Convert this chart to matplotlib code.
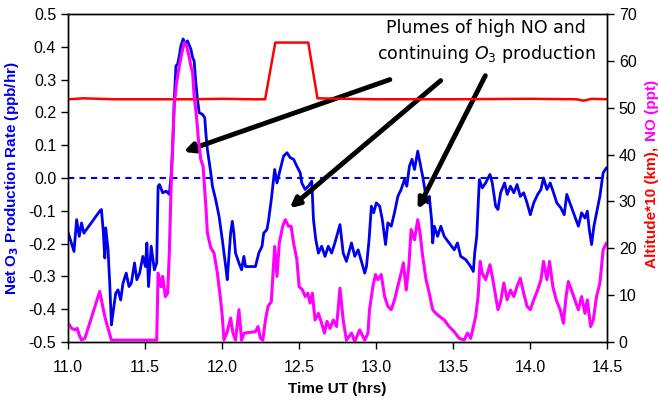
import matplotlib.pyplot as plt

# net O3 production rate (ppb/hr), left axis
blue_t = [11.002, 11.039, 11.056, 11.073, 11.088, 11.103, 11.120, 11.206, 11.217, 11.228,
          11.239, 11.245, 11.260, 11.271, 11.282, 11.292, 11.310, 11.325, 11.342, 11.357,
          11.378, 11.396, 11.411, 11.432, 11.447, 11.465, 11.486, 11.503, 11.512, 11.523,
          11.540, 11.561, 11.576, 11.585, 11.594, 11.615, 11.637, 11.658, 11.669, 11.680,
          11.690, 11.701, 11.712, 11.723, 11.733, 11.748, 11.761, 11.776, 11.798, 11.809,
          11.819, 11.830, 11.841, 11.852, 11.873, 11.888, 11.895, 11.905, 11.927, 11.938,
          11.959, 11.981, 12.002, 12.024, 12.034, 12.045, 12.056, 12.067, 12.077, 12.088,
          12.110, 12.127, 12.142, 12.153, 12.217, 12.239, 12.260, 12.271, 12.292, 12.303,
          12.320, 12.342, 12.357, 12.378, 12.400, 12.422, 12.443, 12.465, 12.486, 12.508,
          12.518, 12.540, 12.561, 12.583, 12.594, 12.609, 12.626, 12.647, 12.669, 12.690,
          12.712, 12.733, 12.766, 12.787, 12.808, 12.841, 12.862, 12.884, 12.905, 12.927,
          12.938, 12.955, 12.970, 12.985, 13.002, 13.024, 13.041, 13.062, 13.077, 13.099,
          13.120, 13.142, 13.163, 13.185, 13.200, 13.217, 13.234, 13.250, 13.271, 13.286,
          13.303, 13.321, 13.335, 13.346, 13.361, 13.368, 13.379, 13.400, 13.421, 13.443,
          13.475, 13.508, 13.529, 13.550, 13.583, 13.615, 13.632, 13.641, 13.654, 13.663,
          13.671, 13.690, 13.712, 13.740, 13.755, 13.777, 13.792, 13.809, 13.835, 13.852,
          13.873, 13.895, 13.916, 13.937, 13.959, 13.981, 14.002, 14.024, 14.050, 14.071,
          14.088, 14.110, 14.131, 14.153, 14.174, 14.200, 14.222, 14.239, 14.314, 14.335,
          14.357, 14.372, 14.385, 14.400, 14.415, 14.437, 14.454, 14.475, 14.495]
blue_v = [-0.168, -0.224, -0.127, -0.178, -0.137, -0.168, -0.157, -0.101, -0.096, -0.157,
          -0.244, -0.152, -0.219, -0.321, -0.448, -0.412, -0.351, -0.341, -0.372, -0.321,
          -0.290, -0.331, -0.321, -0.259, -0.310, -0.290, -0.239, -0.270, -0.198, -0.331,
          -0.208, -0.280, -0.259, -0.025, -0.020, -0.045, -0.040, -0.050, 0.006, 0.087,
          0.240, 0.342, 0.347, 0.373, 0.403, 0.424, 0.408, 0.418, 0.393, 0.367,
          0.357, 0.291, 0.240, 0.199, 0.194, 0.184, 0.138, 0.087, 0.016, -0.025,
          -0.066, -0.117, -0.188, -0.270, -0.310, -0.239, -0.168, -0.132, -0.168, -0.229,
          -0.259, -0.280, -0.239, -0.270, -0.270, -0.229, -0.208, -0.168, -0.157, -0.127,
          -0.066, 0.026, -0.015, 0.026, 0.067, 0.077, 0.062, 0.057, 0.036, 0.016,
          -0.015, -0.035, -0.025, -0.010, -0.127, -0.188, -0.229, -0.208, -0.239, -0.208,
          -0.229, -0.198, -0.142, -0.229, -0.254, -0.198, -0.239, -0.219, -0.254, -0.290,
          -0.270, -0.188, -0.086, -0.106, -0.076, -0.086, -0.127, -0.203, -0.137, -0.147,
          -0.106, -0.056, -0.035, -0.005, -0.025, 0.036, 0.057, 0.026, 0.082, 0.046,
          0.005, -0.045, -0.076, -0.056, -0.127, -0.198, -0.147, -0.178, -0.147, -0.178,
          -0.198, -0.219, -0.198, -0.239, -0.249, -0.270, -0.285, -0.229, -0.178, -0.086,
          -0.005, -0.030, -0.015, 0.011, -0.015, -0.086, -0.096, -0.045, -0.015, -0.050,
          -0.025, -0.045, -0.020, -0.056, -0.045, -0.076, -0.112, -0.076, -0.050, -0.035,
          0.000, -0.035, -0.015, -0.045, -0.076, -0.091, -0.112, -0.050, -0.147, -0.106,
          -0.122, -0.101, -0.157, -0.203, -0.147, -0.096, -0.055, 0.016, 0.030]

# NO (ppt), right axis
no_t = [11.002, 11.024, 11.045, 11.060, 11.073, 11.088, 11.110, 11.206, 11.224, 11.239,
        11.260, 11.282, 11.576, 11.585, 11.604, 11.615, 11.632, 11.647, 11.658, 11.669,
        11.680, 11.690, 11.705, 11.723, 11.740, 11.755, 11.770, 11.783, 11.798, 11.809,
        11.819, 11.834, 11.847, 11.862, 11.877, 11.895, 11.905, 11.927, 11.948, 11.970,
        11.991, 12.002, 12.013, 12.034, 12.056, 12.071, 12.088, 12.110, 12.127, 12.144,
        12.217, 12.234, 12.249, 12.265, 12.282, 12.299, 12.320, 12.342, 12.357, 12.372,
        12.394, 12.411, 12.432, 12.449, 12.465, 12.486, 12.501, 12.523, 12.540, 12.557,
        12.572, 12.587, 12.604, 12.626, 12.647, 12.665, 12.682, 12.701, 12.723, 12.744,
        12.766, 12.787, 12.808, 12.841, 12.862, 12.894, 12.927, 12.948, 12.958, 12.980,
        12.997, 13.012, 13.034, 13.056, 13.077, 13.099, 13.120, 13.142, 13.163, 13.178,
        13.196, 13.213, 13.228, 13.250, 13.271, 13.286, 13.303, 13.325, 13.346, 13.368,
        13.389, 13.415, 13.443, 13.475, 13.508, 13.540, 13.572, 13.594, 13.615, 13.632,
        13.647, 13.663, 13.676, 13.690, 13.712, 13.740, 13.755, 13.777, 13.792, 13.809,
        13.830, 13.852, 13.873, 13.895, 13.916, 13.937, 13.959, 13.981, 14.002, 14.024,
        14.050, 14.071, 14.088, 14.110, 14.127, 14.148, 14.170, 14.196, 14.217, 14.234,
        14.249, 14.314, 14.335, 14.357, 14.372, 14.394, 14.411, 14.432, 14.454, 14.475,
        14.495]
no_v = [4.0, 2.9, 2.6, 2.9, 1.5, 0.4, 0.8, 10.8, 7.9, 5.4,
        2.9, 0.4, 0.4, 14.7, 11.8, 14.0, 9.7, 10.4, 19.0, 32.5,
        43.2, 50.4, 55.4, 58.9, 61.8, 63.9, 63.2, 61.4, 58.9, 57.5,
        52.5, 48.2, 43.2, 39.0, 37.5, 29.0, 23.3, 20.1, 19.0, 14.7,
        9.0, 5.4, 0.4, 2.2, 5.1, 1.9, 0.4, 6.9, 0.4, 1.9,
        2.2, 3.3, 0.8, 0.4, 4.7, 7.6, 8.6, 20.4, 14.0, 21.1,
        24.7, 26.1, 24.7, 24.7, 21.1, 17.6, 11.8, 11.1, 9.7, 10.4,
        8.3, 10.4, 4.7, 6.1, 4.0, 1.9, 4.4, 2.9, 4.7, 3.3,
        11.5, 4.7, 0.4, 1.9, 0.1, 2.6, 0.4, 1.9, 6.9, 11.9,
        14.4, 13.3, 14.4, 9.7, 7.6, 6.9, 9.0, 11.9, 14.7, 16.9,
        11.1, 16.1, 24.0, 21.8, 26.1, 23.3, 18.3, 13.3, 10.4, 6.9,
        6.1, 5.4, 4.7, 3.3, 2.2, 0.8, 0.4, 1.9, 0.8, 3.3,
        5.4, 9.7, 17.2, 14.7, 13.3, 16.5, 14.0, 9.7, 6.9, 8.6,
        12.6, 9.0, 11.1, 9.7, 11.9, 13.6, 10.4, 7.6, 6.9, 9.0,
        11.1, 13.3, 17.2, 13.3, 17.2, 11.9, 9.0, 6.9, 4.0, 9.7,
        12.9, 6.9, 9.7, 6.1, 9.0, 3.3, 4.7, 9.7, 12.6, 19.7,
        21.0]

# altitude*10 (km), right axis
alt_t = [11.0, 11.1, 11.2, 11.3, 11.5, 11.8, 12.0, 12.2, 12.28, 12.346,
         12.56, 12.62, 13.0, 13.5, 14.0, 14.3, 14.35, 14.4, 14.5]
alt_v = [51.8, 52.0, 51.9, 51.8, 51.8, 51.8, 51.9, 51.8, 51.8, 63.9,
         63.9, 52.0, 51.8, 51.8, 51.9, 51.8, 51.5, 51.9, 51.8]

# arrows: (tail time, tail rate, head time, head rate)
arrows = [(13.09, 0.300, 11.75, 0.080),
          (13.42, 0.297, 12.44, -0.092),
          (13.71, 0.312, 13.27, -0.095)]

plt.rcParams['font.family'] = ['Liberation Sans', 'DejaVu Sans']

fig = plt.figure(figsize=(6.58, 4.05), dpi=100)
ax = fig.add_axes([68 / 658, 1 - 342 / 405, (607 - 68) / 658, (342 - 14) / 405])
ax2 = ax.twinx()

ax.plot(blue_t, blue_v, color='#0000ee', lw=2)
ax.axhline(0, color='#0000ee', lw=1.5, ls=(0, (3, 2.5)))
ax2.plot(alt_t, alt_v, color='#ff0000', lw=1.8)
ax2.plot(no_t, no_v, color='#ff00ff', lw=2.2)

ax.set_xlim(11.0, 14.5)
ax.set_ylim(-0.5, 0.5)
ax2.set_ylim(0, 70)
ax.set_xticks([11.0, 11.5, 12.0, 12.5, 13.0, 13.5, 14.0, 14.5])
ax.set_xticklabels(['11.0', '11.5', '12.0', '12.5', '13.0', '13.5', '14.0', '14.5'])
ax.set_yticks([i / 10 for i in range(-5, 6)])
ax.set_yticklabels(['%.1f' % (i / 10) for i in range(-5, 6)])
ax2.set_yticks(range(0, 71, 10))

for a in (ax, ax2):
    a.tick_params(direction='out', length=5, width=1, labelsize=11.5, colors='black')
    for s in a.spines.values():
        s.set_linewidth(1)
ax.tick_params(axis='x', pad=8)

ax.set_xlabel('Time UT (hrs)', fontsize=11, fontweight='bold', labelpad=5)
ax.set_ylabel('Net O$_\\mathbf{3}$ Production Rate (ppb/hr)', fontsize=11,
              fontweight='bold', color='#0000ee', labelpad=5)

# two-coloured right label
fig.text(652 / 658, 1 - 205 / 405, 'Altitude*10 (km), ', rotation=90, color='#ff0000',
         fontsize=11, fontweight='bold', ha='center', va='center')
fig.text(652 / 658, 1 - 110 / 405, 'NO (ppt)', rotation=90, color='#ff00ff',
         fontsize=11, fontweight='bold', ha='center', va='center')

fig.text(486 / 658, 1 - 42 / 405, 'Plumes of high NO and\ncontinuing $O_3$ production',
         fontsize=12.5, ha='center', va='center', family='DejaVu Sans', linespacing=1.35)

for t0, v0, t1, v1 in arrows:
    ax.annotate('', xy=(t1, v1), xytext=(t0, v0),
                arrowprops=dict(arrowstyle='-|>', color='black', lw=3.5,
                                mutation_scale=14, shrinkA=0, shrinkB=0))

fig.savefig('out.png', dpi=100)
